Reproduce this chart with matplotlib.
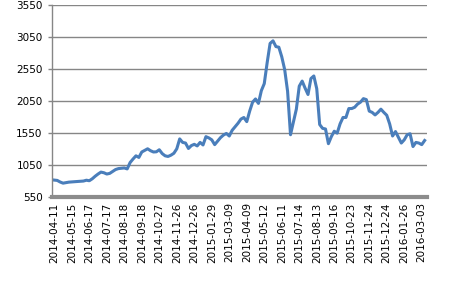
import matplotlib
matplotlib.use("Agg")
import matplotlib.pyplot as plt
import numpy as np

# tick labels on the category axis (one every 6 samples)
dates = ["2014-04-11", "2014-05-15", "2014-06-17", "2014-07-17", "2014-08-18",
         "2014-09-18", "2014-10-27", "2014-11-26", "2014-12-26", "2015-01-29",
         "2015-03-09", "2015-04-09", "2015-05-12", "2015-06-11", "2015-07-14",
         "2015-08-13", "2015-09-16", "2015-10-23", "2015-11-24", "2015-12-24",
         "2016-01-26", "2016-03-03"]

# index level
values = [810, 805, 780, 762, 770, 778, 782, 785, 788, 790,
          795, 808, 800, 830, 870, 905, 935, 925, 905, 915,
          945, 975, 990, 995, 1000, 985, 1085, 1140, 1190, 1165,
          1250, 1275, 1300, 1270, 1250, 1253, 1285, 1225, 1190, 1180,
          1200, 1230, 1300, 1455, 1400, 1390, 1305, 1350, 1370, 1345,
          1400, 1360, 1490, 1470, 1440, 1365, 1420, 1475, 1515, 1540,
          1500, 1590, 1645, 1700, 1765, 1790, 1725, 1890, 2030, 2080,
          2010, 2210, 2320, 2650, 2950, 2990, 2900, 2890, 2740, 2540,
          2200, 1520, 1720, 1920, 2280, 2360, 2250, 2150, 2400, 2440,
          2240, 1680, 1620, 1610, 1380, 1490, 1575, 1545, 1690, 1790,
          1790, 1930, 1930, 1950, 2000, 2030, 2085, 2070, 1890, 1870,
          1830, 1870, 1920, 1870, 1825, 1690, 1500, 1570, 1480, 1390,
          1440, 1520, 1535, 1335, 1400, 1390, 1365, 1430]

step = 6
yticks = [550, 1050, 1550, 2050, 2550, 3050, 3550]

fig = plt.figure(figsize=(4.52, 2.81), dpi=100)
ax = fig.add_axes([0.1157, 0.300, 0.8283, 0.682])

x = np.arange(len(values))
ax.plot(x, values, color="#4a7ebb", linewidth=2.2, solid_joinstyle="round")

ax.set_ylim(550, 3550)
ax.set_yticks(yticks)
ax.set_xlim(-0.69, 127.7)
ax.set_xticks(np.arange(len(dates)) * step)
ax.set_xticklabels(dates, rotation=90)

ax.grid(True, axis="y", color="#868686", linewidth=1.0)
ax.set_axisbelow(True)

for s in ["top", "right"]:
    ax.spines[s].set_visible(False)
ax.spines["left"].set_color("#868686")
ax.spines["left"].set_linewidth(1.0)
ax.spines["bottom"].set_color("#8c8c8c")
ax.spines["bottom"].set_linewidth(3.0)

ax.tick_params(axis="y", length=3, width=1, color="#868686", pad=4,
               labelsize=7.5, labelcolor="black")
ax.tick_params(axis="x", length=0, pad=4, labelsize=7.5, labelcolor="black")

fig.savefig("out.png", dpi=100)
